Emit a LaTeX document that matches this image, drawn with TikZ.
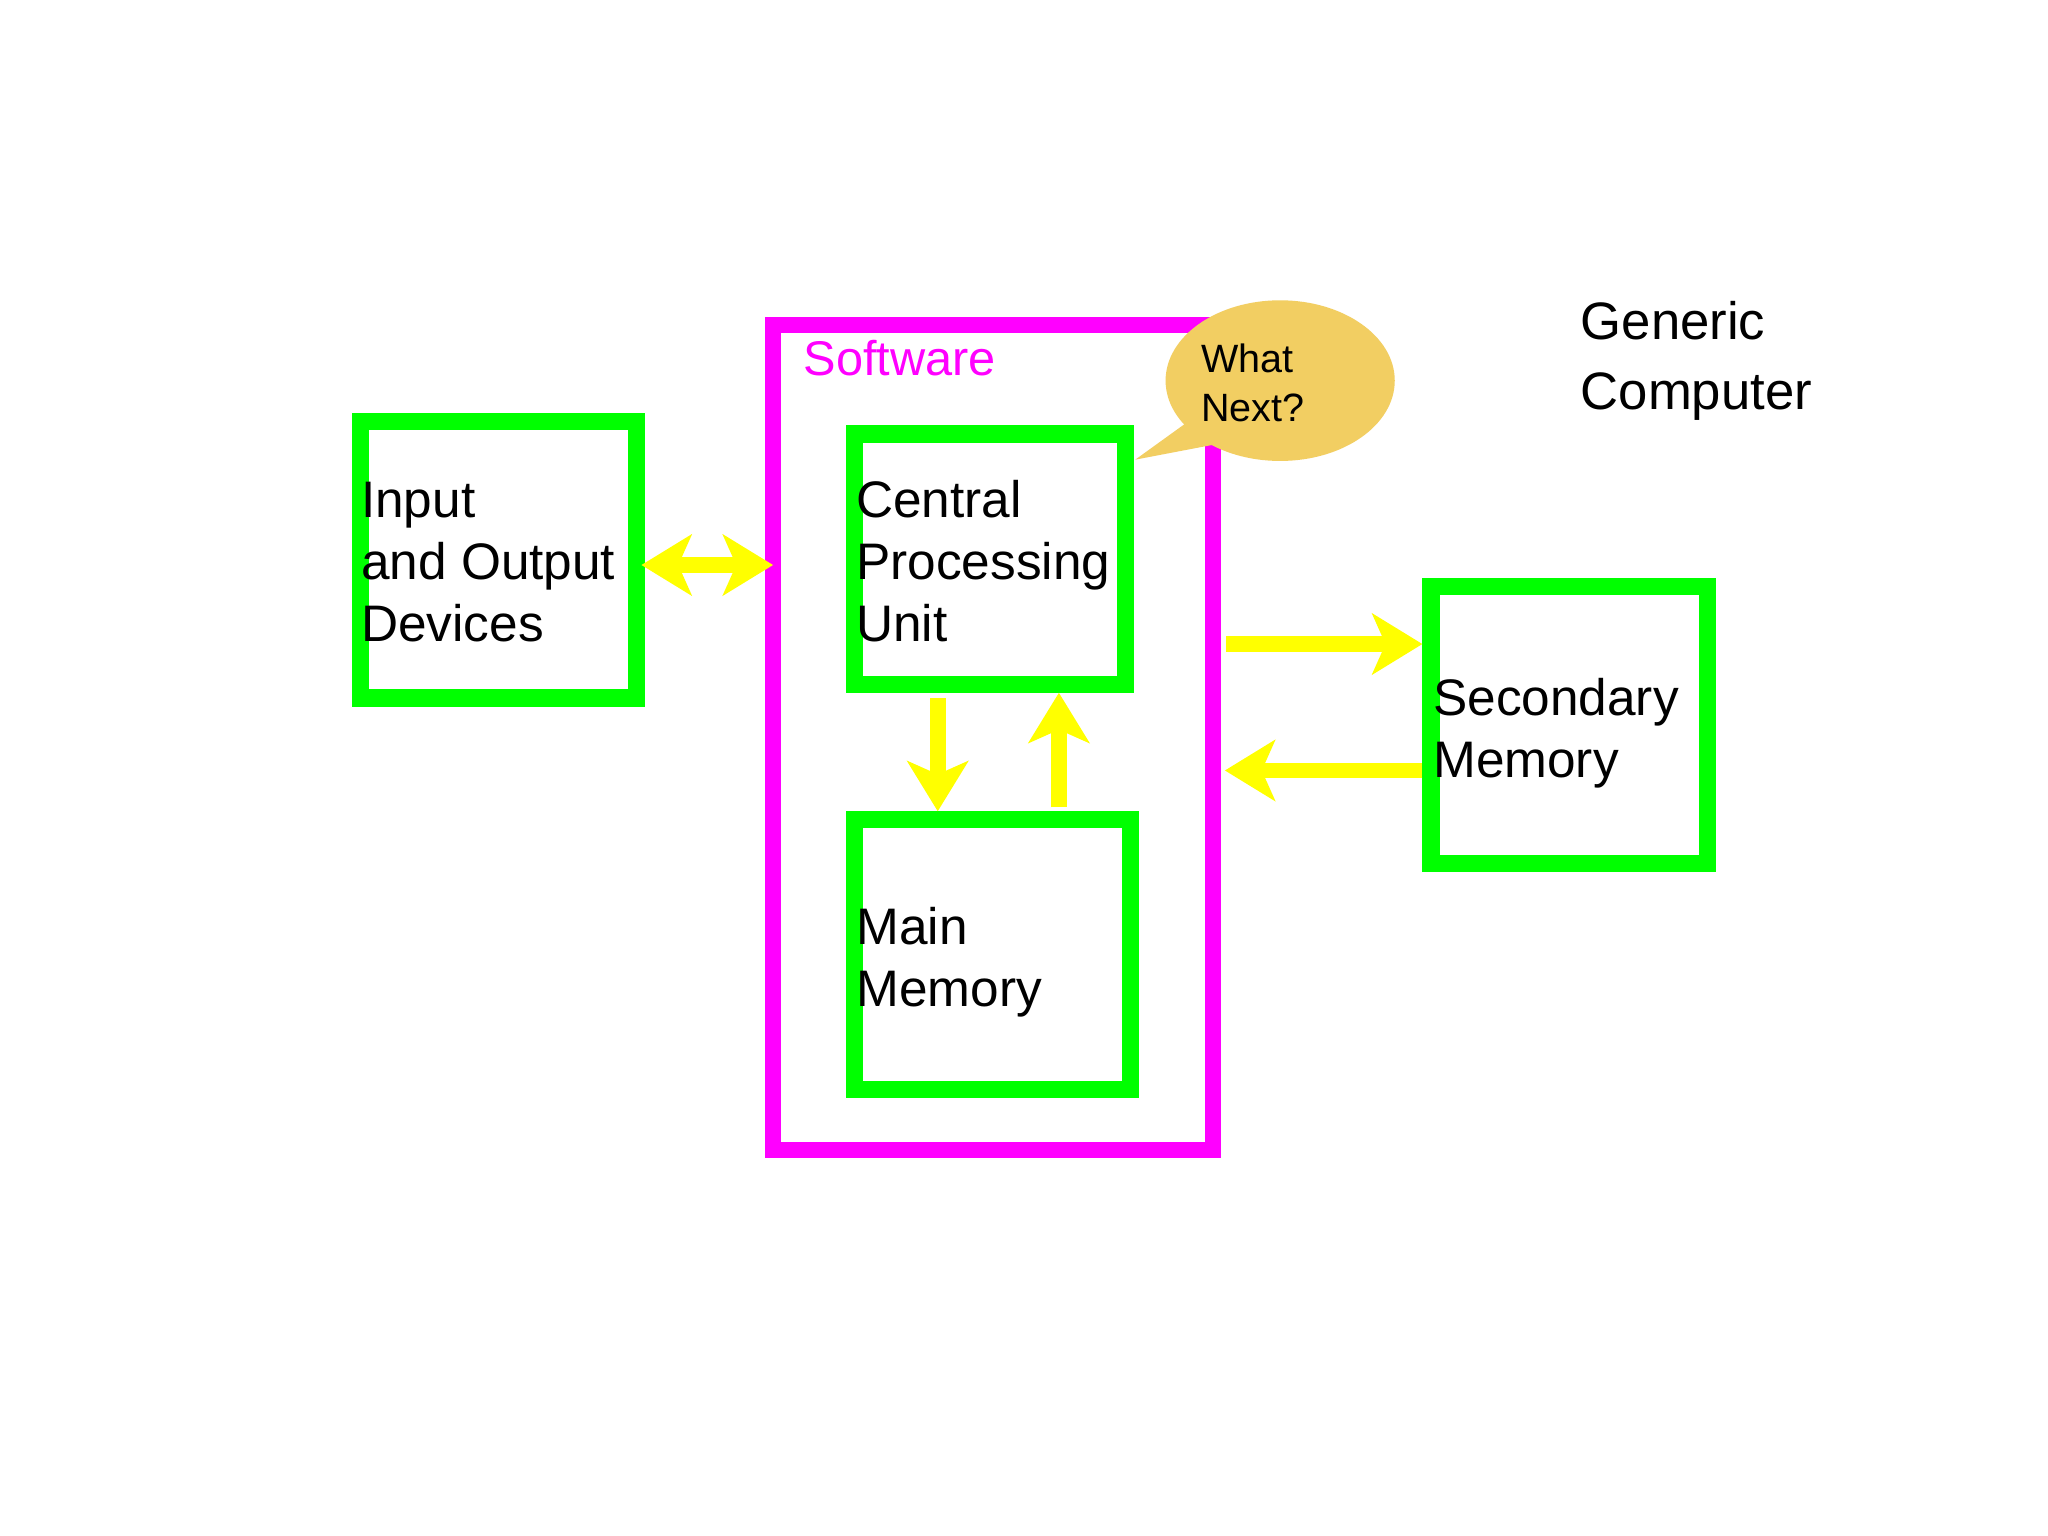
\documentclass[tikz,border=0pt]{standalone}
\usepackage{fontspec}
\setmainfont{Liberation Sans}
\usetikzlibrary{arrows.meta,shapes.geometric}
\definecolor{grn}{HTML}{00FF00}
\definecolor{mag}{HTML}{FF00FF}
\definecolor{yel}{HTML}{FFFF00}
\definecolor{bub}{HTML}{F2CE62}
\begin{document}
\begin{tikzpicture}[x=1pt,y=-1pt,
 box/.style={draw=grn,line width=13pt,rectangle,inner sep=0pt},
 lbl/.style={anchor=base west,inner sep=0pt,font=\fontsize{39}{47}\selectfont,align=left},
 arr/.style={draw=yel,line width=12pt,-{Stealth[length=38pt,width=46pt,inset=10pt]}},
 darr/.style={draw=yel,line width=12pt,{Stealth[length=38pt,width=46pt,inset=10pt]}-{Stealth[length=38pt,width=46pt,inset=10pt]}}]
\useasboundingbox (0,0) rectangle (1555,1166);
\fill[white] (0,0) rectangle (1555,1166);
% software frame
\node[draw=mag,line width=12pt,minimum width=334pt,minimum height=626pt,inner sep=0pt] (sw) at (754,560) {};
\node[lbl,text=mag,font=\fontsize{37}{44}\selectfont] (swl) at (610,285) {Software};
% boxes
\node[box,minimum width=210pt,minimum height=210pt] (io) at (378.5,425) {};
\node[box,minimum width=206pt,minimum height=190pt] (cpu) at (751.5,424.5) {};
\node[box,minimum width=210pt,minimum height=205pt] (mm) at (753.5,725) {};
\node[box,minimum width=210pt,minimum height=210pt] (sm) at (1191.5,550.5) {};
\node[lbl] (iol) at (274,487) {Input\\and Output\\Devices};
\node[lbl] (cpul) at (650,487) {Central\\Processing\\Unit};
\node[lbl] (mml) at (650,764) {Main\\Memory};
\node[lbl] (sml) at (1088,590) {Secondary\\Memory};
\node[lbl,font=\fontsize{40}{53}\selectfont] (gc) at (1200,311) {Generic\\Computer};
% bubble
\fill[bub] (905,318) -- (862,349) -- (930,336) -- cycle;
\node[ellipse,fill=bub,minimum width=174pt,minimum height=122pt,inner sep=0pt] (bubble) at (972,289) {};
\node[lbl,font=\fontsize{30}{37}\selectfont] (wn) at (912,320) {What\\Next?};
% arrows
\coordinate (a1) at (487,429); \coordinate (a2) at (587,429);
\draw[darr] (a1) -- (a2);
\draw[arr] (cpu.south -| 712,0) ++(0,4) -- (mm.north -| 712,0);
\draw[arr] (mm.north -| 804,0) ++(0,-3) -- (cpu.south -| 804,0);
\coordinate (b1) at (931,489); \coordinate (b2) at (1080,489);
\draw[arr] (b1) -- (b2);
\coordinate (c1) at (1080,585); \coordinate (c2) at (930,585);
\draw[arr] (c1) -- (c2);
\end{tikzpicture}
\end{document}
